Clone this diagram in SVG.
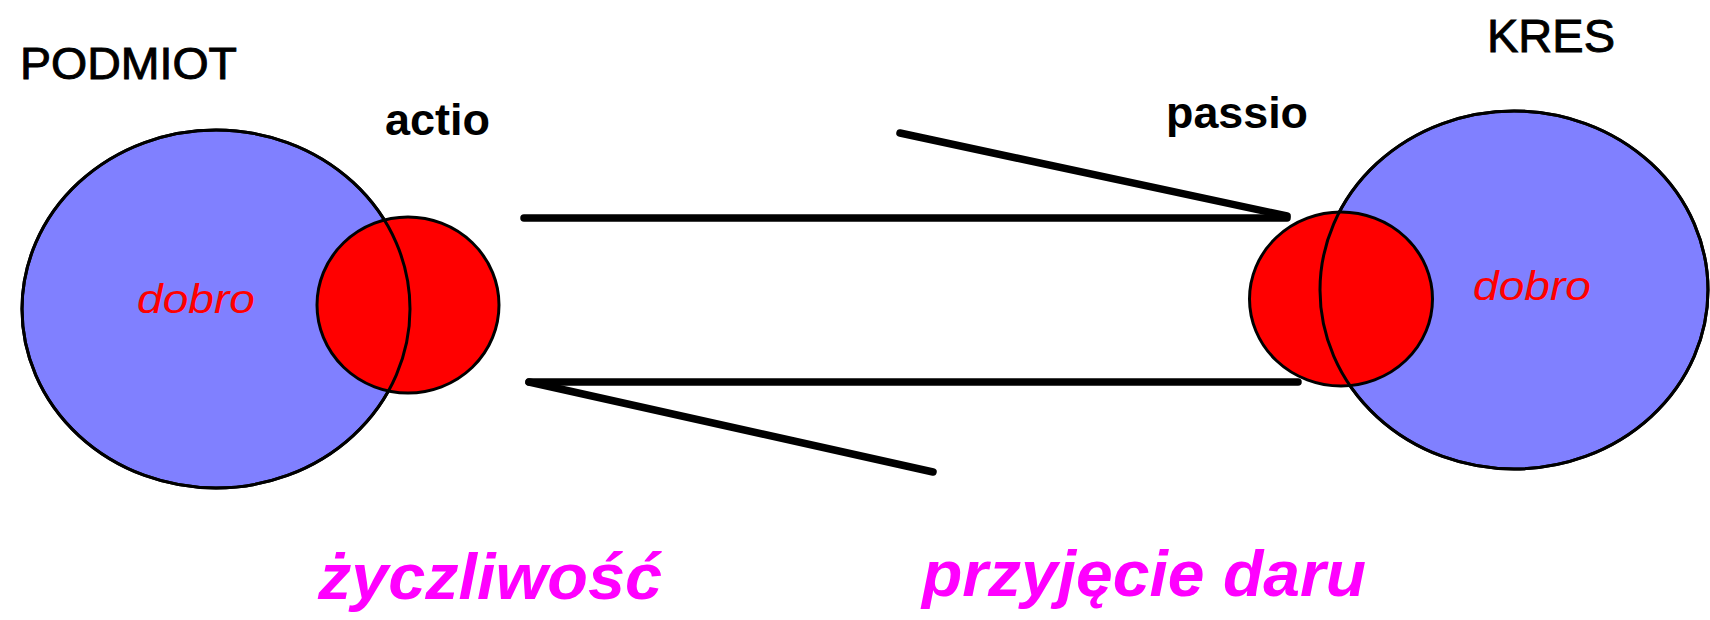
<svg xmlns="http://www.w3.org/2000/svg" width="1710" height="620" viewBox="0 0 1710 620">
<style>
.blue{fill:#8080FF;stroke:#000;stroke-width:3}
.red{fill:#FF0000;stroke:#000;stroke-width:3}
.edge{fill:none;stroke:#000;stroke-width:3}
.lbl{font-family:"Liberation Sans",Arial,sans-serif;fill:#000}
.reg{stroke:#000;stroke-width:0.9}
.b{font-weight:bold}
.dobro{font-family:"Liberation Sans",Arial,sans-serif;font-style:italic;fill:#FF0000;font-size:40px}
.pink{font-family:"Liberation Sans",Arial,sans-serif;font-style:italic;font-weight:bold;fill:#FF00FF;font-size:64px}
.ln{stroke:#000;stroke-width:7.5;stroke-linecap:round;fill:none}
</style>
<rect width="1710" height="620" fill="#fff"/>
<g id="podmiot">
<ellipse class="blue" cx="216" cy="309" rx="194" ry="179"/>
<text class="dobro" x="196" y="313" text-anchor="middle" textLength="118" lengthAdjust="spacingAndGlyphs">dobro</text>
<text class="lbl reg" x="20" y="79" font-size="44" textLength="217" lengthAdjust="spacingAndGlyphs">PODMIOT</text>
</g>
<g id="actio">
<ellipse class="red" cx="408" cy="305" rx="91" ry="88"/>
<ellipse class="edge" cx="216" cy="309" rx="194" ry="179"/>
<text class="lbl b" x="385" y="135" font-size="45" textLength="105" lengthAdjust="spacingAndGlyphs">actio</text>
</g>
<g id="kres">
<ellipse class="blue" cx="1514" cy="290" rx="194" ry="179"/>
<text class="dobro" x="1532" y="300" text-anchor="middle" textLength="118" lengthAdjust="spacingAndGlyphs">dobro</text>
<text class="lbl reg" x="1487" y="52" font-size="46" textLength="128" lengthAdjust="spacingAndGlyphs">KRES</text>
</g>
<g id="passio">
<ellipse class="red" cx="1341" cy="299" rx="91.5" ry="87"/>
<ellipse class="edge" cx="1514" cy="290" rx="194" ry="179"/>
<text class="lbl b" x="1166" y="128" font-size="45" textLength="142" lengthAdjust="spacingAndGlyphs">passio</text>
</g>
<g id="connectors">
<line class="ln" x1="524" y1="218" x2="1287" y2="218"/>
<line class="ln" x1="900" y1="133" x2="1287" y2="216"/>
<line class="ln" x1="529" y1="382" x2="1298" y2="382"/>
<line class="ln" x1="529" y1="382" x2="933" y2="472"/>
</g>
<g id="labels">
<text class="pink" x="318" y="599" textLength="344" lengthAdjust="spacingAndGlyphs">życzliwość</text>
<text class="pink" x="922" y="596" textLength="444" lengthAdjust="spacingAndGlyphs">przyjęcie daru</text>
</g>
</svg>
